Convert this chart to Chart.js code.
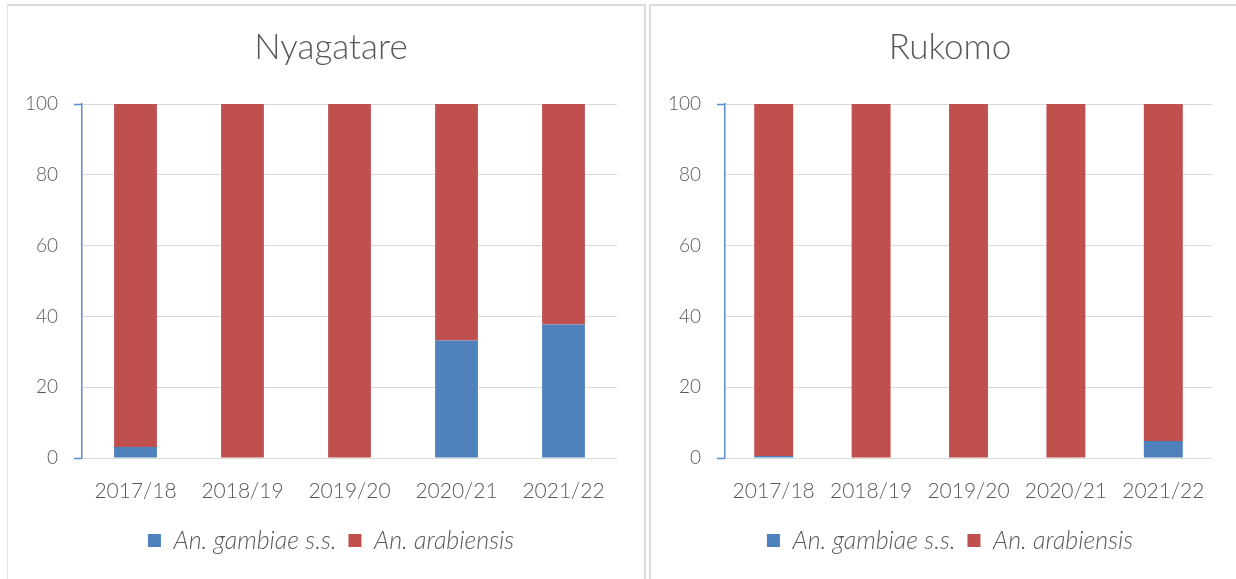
<!DOCTYPE html>
<html>
<head>
<meta charset="utf-8">
<script src="https://cdn.jsdelivr.net/npm/chart.js@4.4.1/dist/chart.umd.min.js"></script>
<style>
  html, body { margin: 0; padding: 0; background: #ffffff; }
  body { width: 1236px; height: 579px; position: relative; overflow: hidden; }
  .frame { position: absolute; box-sizing: border-box; }
  canvas { position: absolute; }
</style>
</head>
<body>
<div class="frame" style="left:7px; top:4px; width:639px; height:600px; border-top:2px solid #dcdcdc; border-left:1px solid #e6e6e6; border-right:2px solid #dcdcdc;"></div>
<div class="frame" style="left:649px; top:4px; width:600px; height:600px; border-top:2px solid #dcdcdc; border-left:2px solid #dcdcdc;"></div>
<canvas id="nyagatare" width="648" height="573" style="left:7px; top:6px;"></canvas>
<canvas id="rukomo" width="602" height="573" style="left:649px; top:6px;"></canvas>
<script>
// Seasons on the x axis
const seasons = ['2017/18', '2018/19', '2019/20', '2020/21', '2021/22'];

// Species share (%) per season, Nyagatare
const nyagatareGambiae = [3.1, 0, 0, 33.2, 37.7];
const nyagatareArabiensis = [96.9, 100, 100, 66.8, 62.3];

// Species share (%) per season, Rukomo
const rukomoGambiae = [0.6, 0, 0, 0, 4.8];
const rukomoArabiensis = [99.4, 100, 100, 100, 95.2];

// Y axis ticks
const yTicks = [0, 20, 40, 60, 80, 100];

const speciesNames = ['An. gambiae s.s.', 'An. arabiensis'];
const BLUE = '#4f81bd';
const RED = '#c0504d';
const TEXT = '#595959';
const GRID = '#d9d9d9';
const AXIS = '#5b8bd0';
const FONT = 'Lato, "Open Sans", sans-serif';

// axisWidth sets the left value axis; spacer is an empty right-hand strip
// that keeps the plot narrower than the title and legend row
function makeChart(id, title, gambiae, arabiensis, axisWidth, spacer) {
  return new Chart(document.getElementById(id), {
    type: 'bar',
    data: {
      labels: seasons,
      datasets: [
        { label: speciesNames[0], data: gambiae, backgroundColor: BLUE, borderWidth: 0,
          categoryPercentage: 1, barPercentage: 0.4 },
        { label: speciesNames[1], data: arabiensis, backgroundColor: RED, borderWidth: 0,
          categoryPercentage: 1, barPercentage: 0.4 }
      ]
    },
    options: {
      responsive: false,
      devicePixelRatio: 1,
      animation: false,
      layout: { padding: { left: 0, right: 0, top: 0, bottom: 16 } },
      plugins: {
        title: {
          display: true,
          text: title,
          color: TEXT,
          font: { family: FONT, size: 35, weight: 300 },
          padding: { top: 21, bottom: 35 }
        },
        legend: {
          position: 'bottom',
          labels: {
            color: TEXT,
            font: { family: FONT, size: 25, style: 'italic', weight: 300 },
            boxWidth: 13,
            boxHeight: 13,
            padding: 12
          }
        },
        tooltip: { enabled: false }
      },
      scales: {
        x: {
          stacked: true,
          grid: { display: false },
          border: { display: false },
          ticks: { color: TEXT, font: { family: FONT, size: 21, weight: 300 }, padding: 13,
                   maxRotation: 0, autoSkip: false },
          afterFit: (scale) => { scale.height = 58; }
        },
        y: {
          stacked: true,
          min: 0,
          max: 100,
          afterBuildTicks: (scale) => { scale.ticks = yTicks.map(v => ({ value: v })); },
          ticks: { color: TEXT, font: { family: FONT, size: 19, weight: 300 }, padding: 16 },
          grid: {
            color: GRID,
            lineWidth: 1,
            drawTicks: true,
            tickLength: 8,
            tickColor: (ctx) => (ctx.tick && (ctx.tick.value === 0 || ctx.tick.value === 100)) ? AXIS : 'rgba(0,0,0,0)',
            tickWidth: 1.5
          },
          border: { display: true, color: AXIS, width: 1.5 },
          afterFit: (scale) => { scale.width = axisWidth; }
        },
        spacer: {
          type: 'linear',
          position: 'right',
          display: true,
          min: 0,
          max: 100,
          grid: { display: false, drawOnChartArea: false },
          ticks: { display: false },
          border: { display: false },
          afterFit: (scale) => { scale.width = spacer; }
        }
      }
    }
  });
}

makeChart('nyagatare', 'Nyagatare', nyagatareGambiae, nyagatareArabiensis, 75, 38);
makeChart('rukomo', 'Rukomo', rukomoGambiae, rukomoArabiensis, 76, 39);
</script>
</body>
</html>
